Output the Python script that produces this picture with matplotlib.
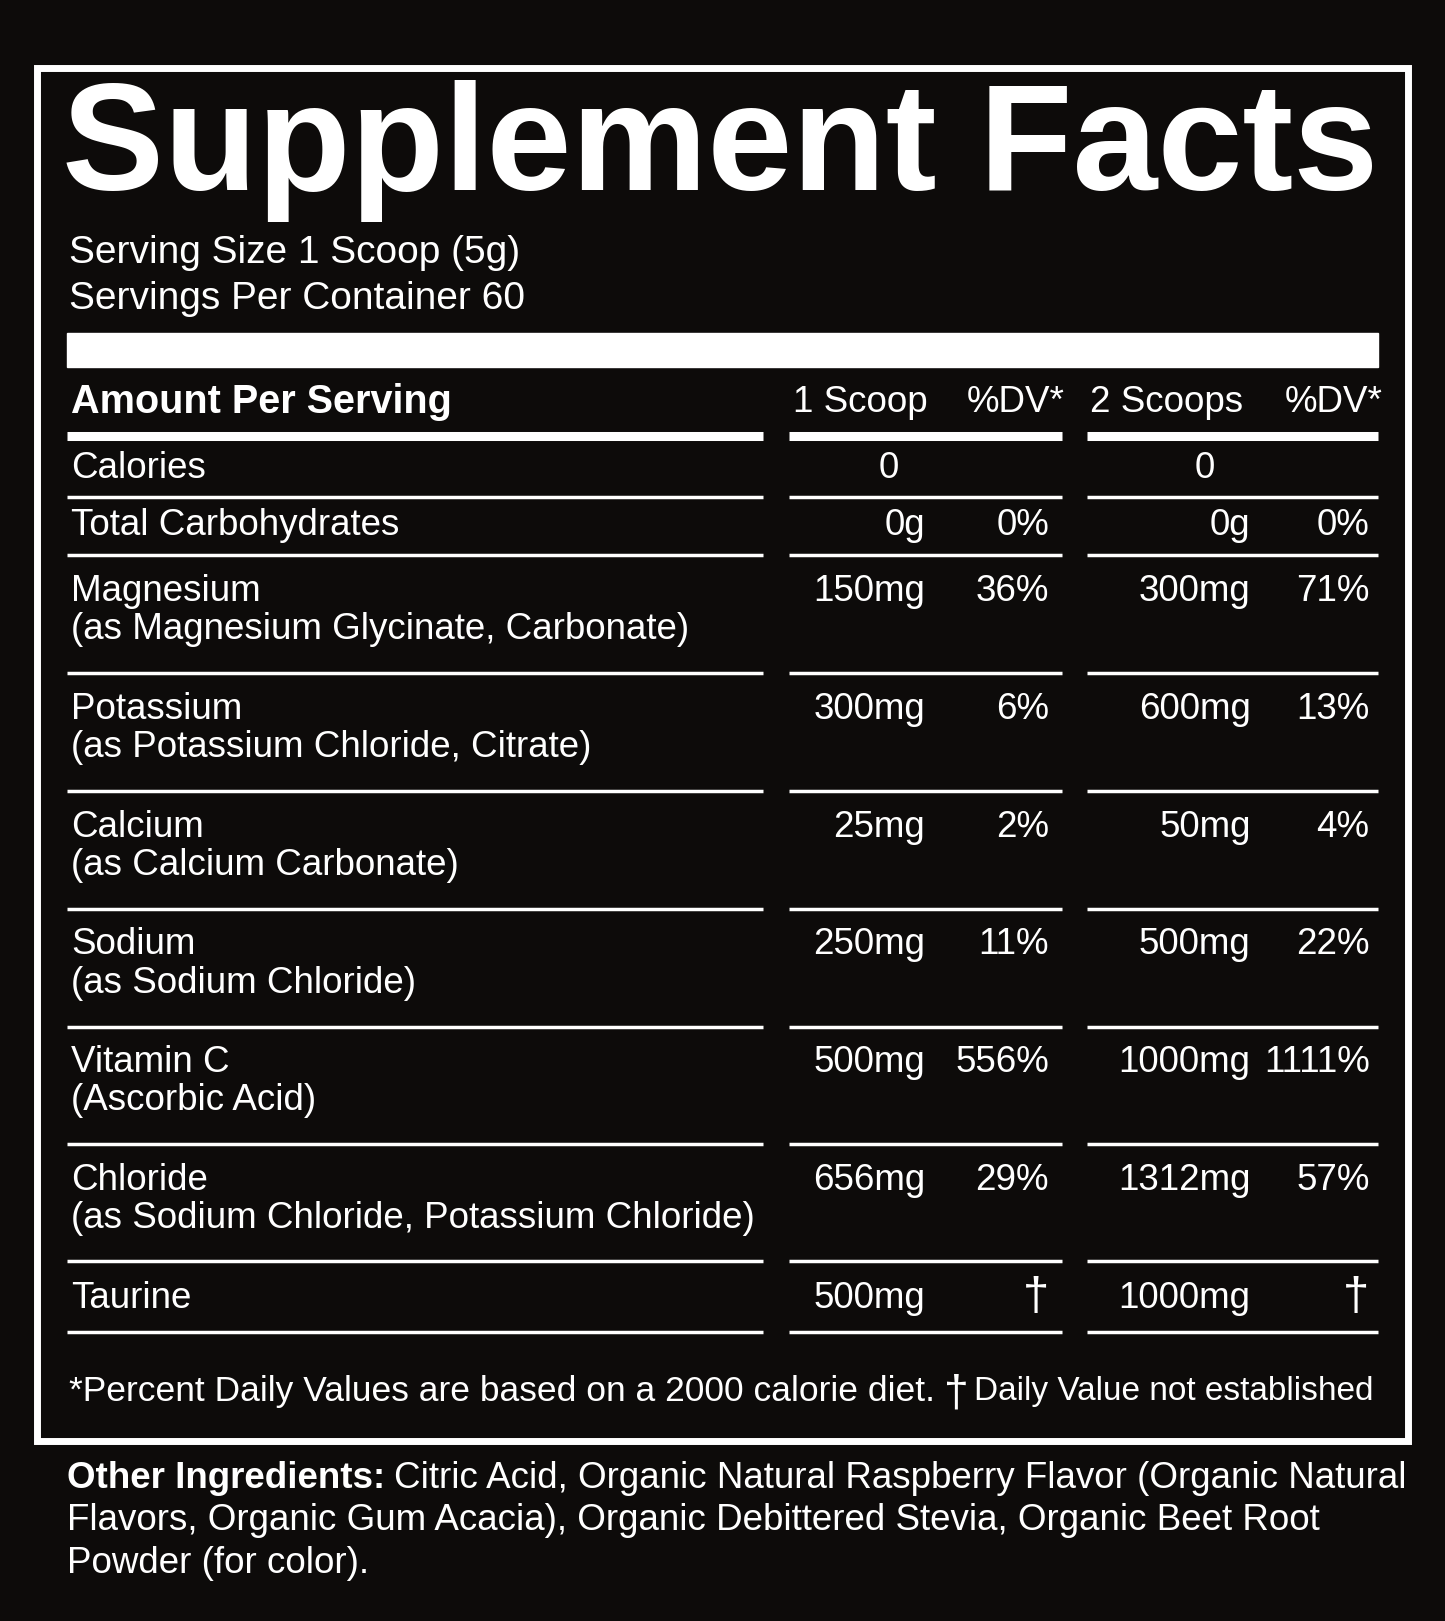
import matplotlib.pyplot as plt
from matplotlib.patches import Rectangle

nutrients = ["Calories", "Total Carbohydrates", "Magnesium", "Potassium", "Calcium",
             "Sodium", "Vitamin C", "Chloride", "Taurine"]
sources = ["", "", "(as Magnesium Glycinate, Carbonate)", "(as Potassium Chloride, Citrate)",
           "(as Calcium Carbonate)", "(as Sodium Chloride)", "(Ascorbic Acid)",
           "(as Sodium Chloride, Potassium Chloride)", ""]
amt1 = ["0", "0g", "150mg", "300mg", "25mg", "250mg", "500mg", "656mg", "500mg"]
dv1 = ["", "0%", "36%", "6%", "2%", "11%", "556%", "29%", "†"]
amt2 = ["0", "0g", "300mg", "600mg", "50mg", "500mg", "1000mg", "1312mg", "1000mg"]
dv2 = ["", "0%", "71%", "13%", "4%", "22%", "1111%", "57%", "†"]
row_top = [453, 508, 572, 686, 800, 914, 1028, 1142, 1256]
row_line = [481, 537, 651, 765, 879, 993, 1107, 1220, 1288]

bg = "#0d0b0a"
W, H = 1398, 1568
fig = plt.figure(figsize=(14.45, 16.21), dpi=100, facecolor=bg)
ax = fig.add_axes([0, 0, 1, 1])
ax.set_xlim(0, W)
ax.set_ylim(H, 0)
ax.axis("off")
ax.set_facecolor(bg)

fam = ["Liberation Sans", "DejaVu Sans"]
kw = dict(color="white", family=fam, va="center")
fs = 26.5

def after(t, gap=0):
    # x in data coords where text t ends
    fig.canvas.draw()
    bb = t.get_window_extent()
    return ax.transData.inverted().transform((bb.x1, 0))[0] + gap

ax.add_patch(Rectangle((36, 66), 1326, 1328, fill=False, ec="white", lw=5))
ax.text(60, 146, "Supplement Facts", fontsize=110, fontweight="bold", **kw)
ax.text(67, 245, "Serving Size 1 Scoop (5g)", fontsize=28, **kw)
ax.text(67, 289, "Servings Per Container 60", fontsize=28, **kw)
ax.add_patch(Rectangle((65, 322), 1268, 33, color="white"))

ax.text(69, 389, "Amount Per Serving", fontsize=28.5, fontweight="bold", **kw)
ax.text(767, 389, "1 Scoop", fontsize=fs, **kw)
ax.text(935, 389, "%DV*", fontsize=fs, **kw)
ax.text(1055, 389, "2 Scoops", fontsize=fs, **kw)
ax.text(1243, 389, "%DV*", fontsize=fs, **kw)

segs = [(65, 738), (763, 1027), (1052, 1333)]
for x0, x1 in segs:
    ax.plot([x0, x1], [422, 422], color="white", lw=6.5, solid_capstyle="butt")
    for y in row_line:
        ax.plot([x0, x1], [y, y], color="white", lw=2.5, solid_capstyle="butt")

for i in range(len(nutrients)):
    y = row_top[i]
    ax.text(69, y, nutrients[i], fontsize=fs, **kw)
    if sources[i]:
        ax.text(69, y + 37, sources[i], fontsize=fs, **kw)
    if dv1[i] == "" and amt1[i] == "0":
        ax.text(860, y, amt1[i], fontsize=fs, ha="center", **kw)
        ax.text(1166, y, amt2[i], fontsize=fs, ha="center", **kw)
        continue
    dfs = 34 if dv1[i] == "†" else fs
    ax.text(895, y, amt1[i], fontsize=fs, ha="right", **kw)
    ax.text(1015, y, dv1[i], fontsize=dfs, ha="right", **kw)
    ax.text(1210, y, amt2[i], fontsize=fs, ha="right", **kw)
    ax.text(1325, y, dv2[i], fontsize=dfs, ha="right", **kw)

t = ax.text(67, 1346, "*Percent Daily Values are based on a 2000 calorie diet.", fontsize=25.5, **kw)
d = ax.text(after(t, 8), 1348, "†", fontsize=32, **kw)
ax.text(after(d, 6), 1346, "Daily Value not established", fontsize=24, **kw)

b = ax.text(65, 1430, "Other Ingredients:", fontsize=fs, fontweight="bold", **kw)
ax.text(after(b, 8), 1430, "Citric Acid, Organic Natural Raspberry Flavor (Organic Natural", fontsize=fs, **kw)
ax.text(65, 1471, "Flavors, Organic Gum Acacia), Organic Debittered Stevia, Organic Beet Root", fontsize=fs, **kw)
ax.text(65, 1512, "Powder (for color).", fontsize=fs, **kw)

fig.savefig("out.png", dpi=100, facecolor=bg)
